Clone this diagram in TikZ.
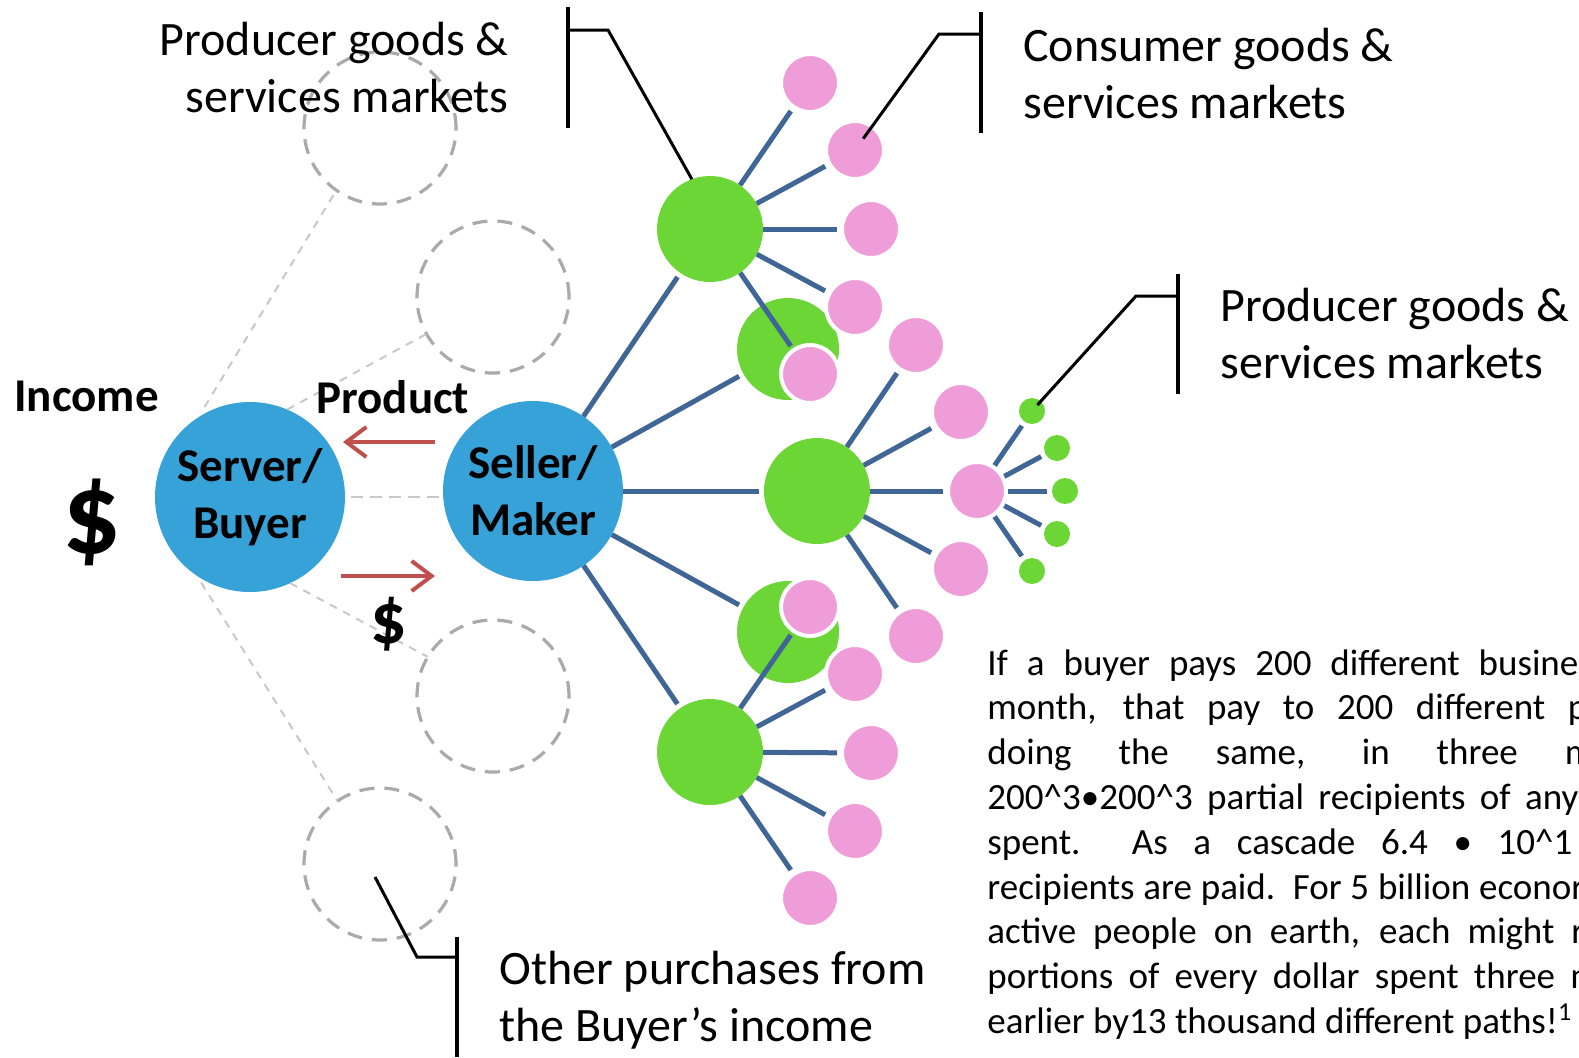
\documentclass[tikz,border=0pt]{standalone}
\usepackage{fontspec}
\setmainfont{Carlito}
\usepackage{tikz}
\usetikzlibrary{arrows.meta,backgrounds}
\definecolor{buyerblue}{RGB}{54,162,216}
\definecolor{firmgreen}{RGB}{108,214,54}
\definecolor{shoppink}{RGB}{239,157,216}
\definecolor{linkblue}{RGB}{64,102,150}
\definecolor{flowred}{RGB}{192,80,77}
\definecolor{ghostgray}{RGB}{170,170,170}
\definecolor{faintgray}{RGB}{200,200,200}

\begin{document}
\begin{tikzpicture}[x=0.5pt,y=-0.5pt,
  agent/.style={circle,fill=buyerblue,inner sep=0pt,outer sep=0pt,align=center,font=\bfseries\fontsize{23.5}{28.5}\selectfont},
  firm/.style={circle,fill=firmgreen,inner sep=0pt,outer sep=0pt,minimum size=53pt},
  half/.style={circle,fill=firmgreen,inner sep=0pt,outer sep=0pt,minimum size=51pt},
  shop/.style={circle,fill=shoppink,draw=white,line width=2pt,inner sep=0pt,outer sep=0pt,minimum size=29pt},
  seed/.style={circle,fill=firmgreen,inner sep=0pt,outer sep=0pt,minimum size=13pt},
  ghost/.style={circle,draw=ghostgray,line width=1.6pt,dash pattern=on 7.5pt off 5pt,inner sep=0pt,outer sep=0pt,minimum size=76pt},
  branch/.style={draw=linkblue,line width=2.5pt,shorten >=2.5pt},
  faint/.style={draw=faintgray,line width=1pt,dash pattern=on 4pt off 3.5pt},
  trade/.style={draw=flowred,line width=2pt,-{Straight Barb[length=10pt,width=15pt]}},
  bar/.style={line width=2pt},
  lead/.style={line width=1.5pt},
  callout/.style={inner sep=0pt,font=\fontsize{24}{28.5}\selectfont},
  tag/.style={inner sep=0pt,font=\bfseries\fontsize{23.5}{28.5}\selectfont}]
\useasboundingbox (0,0) rectangle (1579,1057);

\node[ghost] (ghostA) at (380,128) {};
\node[ghost] (ghostB) at (493,297) {};
\node[ghost] (ghostC) at (493,696) {};
\node[ghost] (ghostD) at (380,864) {};

\node[agent,minimum size=95pt] (buyer) at (250,497) {Server/\\Buyer};
\node[agent,minimum size=90pt] (seller) at (533,491) {Seller/\\Maker};

\draw[faint,shorten <=6pt] (buyer.123) -- (ghostA.235);
\draw[faint] (buyer.67) -- (ghostB.209);
\draw[faint] (buyer.295) -- (ghostC.149);
\draw[faint,shorten <=4pt] (buyer.236) -- (ghostD.124);
\draw[faint,line width=1.4pt,dash pattern=on 6pt off 3.5pt,shorten <=3pt,shorten >=1pt] (buyer.east) -- (buyer.east -| seller.west);

\coordinate (prodfrom) at (435,442);
\coordinate (prodto) at (343,442);
\coordinate (payfrom) at (341,576);
\coordinate (payto) at (435,576);
\draw[trade] (prodfrom) -- (prodto);
\draw[trade] (payfrom) -- (payto);

\node[tag,anchor=base west] (income) at (14,411) {Income};
\node[tag,anchor=base west] (product) at (316,413) {Product};
\node[inner sep=0pt,anchor=base,font=\bfseries\fontsize{58}{62}\selectfont] (cash) at (92,553) {\$};
\node[inner sep=0pt,anchor=base,font=\bfseries\fontsize{36}{40}\selectfont] (pay) at (389,643) {\$};

\node[callout,anchor=north east,align=right] (mktA) at (509,22) {Producer goods \&\\services markets};
\node[callout,anchor=north west,align=left] (mktB) at (1023,28) {Consumer goods \&\\services markets};
\node[callout,anchor=north west,align=left] (mktC) at (1220,288) {Producer goods \&\\services markets};
\node[callout,anchor=north west,align=left] (other) at (499,951) {Other purchases from\\the Buyer's income};

\node[firm] (g1) at (710,229) {};
\node[firm] (g2) at (817,491) {};
\node[firm] (g3) at (710,752) {};

\node[shop] (p11) at (810,83) {};
\node[shop] (p12) at (855,150) {};
\node[shop] (p13) at (871,229) {};
\node[shop] (p14) at (855,307) {};
\node[shop] (p15) at (810,374) {};
\node[shop] (p21) at (916,345) {};
\node[shop] (p22) at (961,412) {};
\node[shop] (p23) at (977,491) {};
\node[shop] (p24) at (961,569) {};
\node[shop] (p25) at (916,636) {};
\node[shop] (p31) at (810,607) {};
\node[shop] (p32) at (855,674) {};
\node[shop] (p33) at (871,753) {};
\node[shop] (p34) at (855,831) {};
\node[shop] (p35) at (810,898) {};

\node[seed] (s1) at (1032,411) {};
\node[seed] (s2) at (1057,448) {};
\node[seed] (s3) at (1065,491) {};
\node[seed] (s4) at (1057,534) {};
\node[seed] (s5) at (1032,571) {};

\begin{scope}[on background layer]
\node[half] (gu) at (788,349) {};
\node[half] (gl) at (788,632) {};
\draw[branch] (seller) -- (g1);
\draw[branch] (seller) -- (gu);
\draw[branch] (seller) -- (g2);
\draw[branch] (seller) -- (gl);
\draw[branch] (seller) -- (g3);
\draw[branch] (g1) -- (p11);
\draw[branch] (g1) -- (p12);
\draw[branch] (g1) -- (p13);
\draw[branch] (g1) -- (p14);
\draw[branch] (g1) -- (p15);
\draw[branch] (g2) -- (p21);
\draw[branch] (g2) -- (p22);
\draw[branch] (g2) -- (p23);
\draw[branch] (g2) -- (p24);
\draw[branch] (g2) -- (p25);
\draw[branch] (g3) -- (p31);
\draw[branch] (g3) -- (p32);
\draw[branch] (g3) -- (p33);
\draw[branch] (g3) -- (p34);
\draw[branch] (g3) -- (p35);
\draw[branch] (p23) -- (s1);
\draw[branch] (p23) -- (s2);
\draw[branch] (p23) -- (s3);
\draw[branch] (p23) -- (s4);
\draw[branch] (p23) -- (s5);
\end{scope}

\draw[bar] (568,7) -- (568,128);
\draw[lead] (568,30) -- (608,30) -- (g1.110);
\draw[bar] (981,12) -- (981,133);
\draw[lead,shorten >=7pt] (981,34) -- (939,34) -- (p12.center);
\draw[bar] (1178,274) -- (1178,394);
\draw[lead,shorten >=4pt] (1178,296) -- (1136,296) -- (s1.center);
\draw[bar] (457,937) -- (457,1057);
\draw[lead] (457,957) -- (417,957) -- ([shift={(-5,13)}]ghostD.center);

\node[anchor=north west,inner sep=0pt,align=left,font=\fontsize{18.5}{22.4}\selectfont] (note) at (987,649) {%
\makebox[295.5pt][s]{If a buyer pays 200 different busine}\\
\makebox[300pt][s]{month, that pay to 200 different p}\\
\makebox[303.5pt][s]{doing the same, in three m}\\
\makebox[295.5pt][s]{200\textasciicircum{}3•200\textasciicircum{}3 partial recipients of any}\\
\makebox[292.5pt][s]{spent.\ \ As a cascade 6.4 • 10\textasciicircum{}1}\\
\makebox[298.5pt][s]{recipients are paid.\ \ For 5 billion econor}\\
\makebox[298.5pt][s]{active people on earth, each might r}\\
\makebox[306.3pt][s]{portions of every dollar spent three m}\\
earlier by13 thousand different paths!\textsuperscript{1}};
\end{tikzpicture}
\end{document}
